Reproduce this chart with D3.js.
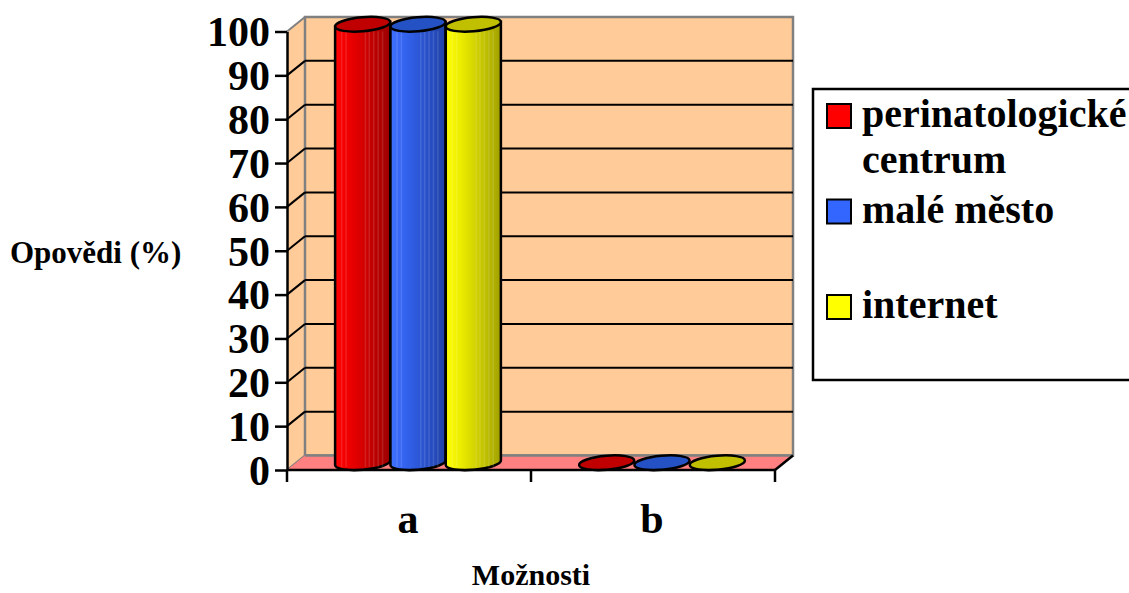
<!DOCTYPE html>
<html>
<head>
<meta charset="utf-8">
<script src="https://cdn.jsdelivr.net/npm/d3@7"></script>
<style>
  body { margin: 0; background: #fff; }
  svg text, svg tspan { font-family: "Liberation Serif", "Times New Roman", serif !important; font-weight: bold; fill: #000; }
</style>
</head>
<body>
<div id="chart"></div>
<script>
// data
var categories = ["a", "b"];
var seriesNames = ["perinatologické centrum", "malé město", "internet"];
var valuesPerinat = [100, 0];
var valuesMesto = [100, 0];
var valuesInternet = [100, 0];
var yTicks = [0, 10, 20, 30, 40, 50, 60, 70, 80, 90, 100];

var allValues = [valuesPerinat, valuesMesto, valuesInternet];
var sideColors = [
  ["#ff0000", "#ee0000", "#d40000", "#b80000", "#9c0000"],
  ["#4070ff", "#3464f0", "#2c58d8", "#264cc0", "#2042a4"],
  ["#ffff00", "#eeee00", "#d6d600", "#bcbc00", "#a0a000"]
];
var topColors = ["#c00000", "#2452c4", "#c0c000"];
var swatchColors = ["#ff0000", "#3366ff", "#ffff00"];

var width = 1129, height = 593;
var depthX = 18, depthY = 14.5;   // 3d offset of the back wall
var serif = "'Liberation Serif', 'Times New Roman', serif";

var svg = d3.select("#chart").append("svg")
    .attr("width", width)
    .attr("height", height);

var x0 = d3.scaleBand().domain(categories).range([287, 775]);
var x1 = d3.scaleBand().domain(seriesNames).range([-83, 83]);
var y = d3.scaleLinear().domain([0, 100]).range([470, 31.5]);

var defs = svg.append("defs");
sideColors.forEach(function (cols, i) {
  var g = defs.append("linearGradient").attr("id", "side" + i)
      .attr("x1", "0%").attr("x2", "100%").attr("y1", "0%").attr("y2", "0%");
  cols.forEach(function (c, j) {
    g.append("stop").attr("offset", (j / (cols.length - 1) * 100) + "%").attr("stop-color", c);
  });
});

var xL = x0.range()[0], xR = x0.range()[1];
var yB = y(0), yT = y(100);

// side wall (left)
svg.append("path")
    .attr("d", "M" + xL + "," + yB + "L" + xL + "," + yT + "L" + (xL + depthX) + "," + (yT - depthY) +
      "L" + (xL + depthX) + "," + (yB - depthY) + "Z")
    .attr("fill", "#ffcc99");

// back wall
svg.append("rect")
    .attr("x", xL + depthX).attr("y", yT - depthY)
    .attr("width", xR - xL).attr("height", yB - yT)
    .attr("fill", "#ffcc99")
    .attr("stroke", "#808080").attr("stroke-width", 2.5);

// gridlines on the back wall and diagonals on the side wall
yTicks.forEach(function (t) {
  var yy = y(t);
  var edge = (t === 0 || t === 100);
  if (!edge) {
    svg.append("line")
        .attr("x1", xL + depthX).attr("x2", xR + depthX)
        .attr("y1", yy - depthY).attr("y2", yy - depthY)
        .attr("stroke", "#000").attr("stroke-width", 2);
  }
  svg.append("line")
      .attr("x1", xL).attr("y1", yy)
      .attr("x2", xL + depthX).attr("y2", yy - depthY)
      .attr("stroke", edge ? "#808080" : "#000").attr("stroke-width", 2);
});

// floor
svg.append("path")
    .attr("d", "M" + xL + "," + yB + "L" + xR + "," + yB + "L" + (xR + depthX) + "," + (yB - depthY) +
      "L" + (xL + depthX) + "," + (yB - depthY) + "Z")
    .attr("fill", "#ff8080");
svg.append("line")
    .attr("x1", xL + depthX).attr("x2", xR + depthX)
    .attr("y1", yB - depthY).attr("y2", yB - depthY)
    .attr("stroke", "#808080").attr("stroke-width", 2.5);
svg.append("line")
    .attr("x1", xR).attr("y1", yB).attr("x2", xR + depthX).attr("y2", yB - depthY)
    .attr("stroke", "#000").attr("stroke-width", 2.5);

// cylinders
var tilt = -5 * Math.PI / 180;
function pt(cx, cy, rx, ry, t) {
  var ex = rx * Math.cos(t), ey = ry * Math.sin(t);
  return [cx + ex * Math.cos(tilt) - ey * Math.sin(tilt), cy + ex * Math.sin(tilt) + ey * Math.cos(tilt)];
}
var rx = x1.bandwidth() / 2, ry = 7;
var midX = depthX / 2, midY = depthY / 2;

categories.forEach(function (cat, ci) {
  seriesNames.forEach(function (s, si) {
    var v = allValues[si][ci];
    var cx = x0(cat) + x0.bandwidth() / 2 + x1(s) + rx + midX;
    var cyB = y(0) - midY, cyT = y(v) - midY;
    var g = svg.append("g");
    if (v > 0) {
      var a = pt(cx, cyT, rx, ry, Math.PI), b = pt(cx, cyB, rx, ry, Math.PI);
      var c = pt(cx, cyB, rx, ry, 0), d = pt(cx, cyT, rx, ry, 0);
      g.append("path")
          .attr("d", "M" + a + "L" + b + "A" + rx + "," + ry + " -5 0 0 " + c + "L" + d + "Z")
          .attr("fill", "url(#side" + si + ")")
          .attr("stroke", "#000").attr("stroke-width", 2.5);
      // faint vertical stripes
      [0.12, 0.2, 0.55, 0.62, 0.7, 0.78, 0.86].forEach(function (f) {
        var xx = cx - rx + f * 2 * rx;
        g.append("line").attr("x1", xx).attr("x2", xx)
            .attr("y1", cyT + ry).attr("y2", cyB + ry * 0.6)
            .attr("stroke", "#fff").attr("stroke-opacity", 0.12).attr("stroke-width", 1.5);
      });
    }
    g.append("ellipse")
        .attr("cx", cx).attr("cy", cyT).attr("rx", rx).attr("ry", ry)
        .attr("transform", "rotate(-5," + cx + "," + cyT + ")")
        .attr("fill", topColors[si])
        .attr("stroke", "#000").attr("stroke-width", 2.5);
  });
});

// y axis
var yAxis = d3.axisLeft(y).tickValues(yTicks).tickSize(12).tickSizeOuter(0).tickPadding(5);
var yG = svg.append("g").attr("transform", "translate(" + xL + ",0)").call(yAxis);
yG.attr("font-family", null);
yG.select(".domain").attr("stroke", "#000").attr("stroke-width", 2.5);
yG.selectAll(".tick line").attr("stroke", "#000").attr("stroke-width", 2.5);
yG.selectAll(".tick text").attr("font-size", 42).attr("dy", "0.34em")
    .style("font-family", serif).style("font-weight", "bold");

// x axis
svg.append("line")
    .attr("x1", xL).attr("x2", xR).attr("y1", yB).attr("y2", yB)
    .attr("stroke", "#000").attr("stroke-width", 2.5);
var bounds = categories.map(function (c) { return x0(c); }).concat([xR]);
bounds.forEach(function (bx) {
  svg.append("line")
      .attr("x1", bx).attr("x2", bx).attr("y1", yB).attr("y2", yB + 12)
      .attr("stroke", "#000").attr("stroke-width", 2.5);
});
categories.forEach(function (cat) {
  svg.append("text")
      .attr("x", x0(cat) + x0.bandwidth() / 2 - 1)
      .attr("y", 533)
      .attr("text-anchor", "middle")
      .style("font-family", serif)
      .attr("font-size", 42)
      .text(cat);
});

// axis titles
svg.append("text").attr("x", 10).attr("y", 263).attr("font-size", 31)
    .style("font-family", serif).text("Opovědi (%)");
svg.append("text").attr("x", (xL + xR) / 2).attr("y", 585).attr("text-anchor", "middle")
    .attr("font-size", 30).style("font-family", serif).text("Možnosti");

// legend
svg.append("rect")
    .attr("x", 813).attr("y", 89).attr("width", 340).attr("height", 291)
    .attr("fill", "#fff").attr("stroke", "#000").attr("stroke-width", 2.5);
seriesNames.forEach(function (s, i) {
  var base = 127 + i * 95.5;
  svg.append("rect")
      .attr("x", 827).attr("y", base - 23).attr("width", 24).attr("height", 24)
      .attr("fill", swatchColors[i]).attr("stroke", "#000").attr("stroke-width", 2);
  var lines = s.length > 12 ? [s.slice(0, s.indexOf(" ")), s.slice(s.indexOf(" ") + 1)] : [s];
  var t = svg.append("text").attr("x", 862).attr("y", base).attr("font-size", 40)
      .style("font-family", serif);
  lines.forEach(function (ln, li) {
    t.append("tspan").attr("x", 862).attr("dy", li === 0 ? 0 : 46).text(ln);
  });
});
</script>
</body>
</html>
